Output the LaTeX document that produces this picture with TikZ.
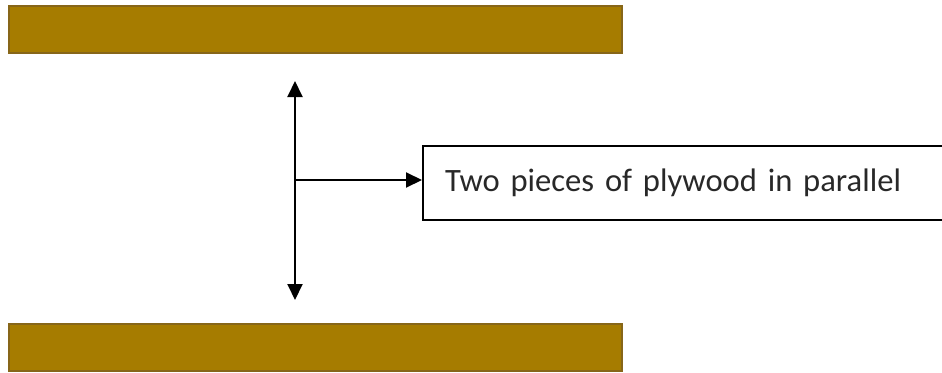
\documentclass[tikz,border=0pt]{standalone}
\usepackage{fontspec}
\setmainfont{Carlito}
\usetikzlibrary{arrows.meta}
\definecolor{plywood}{RGB}{166,124,0}
\definecolor{plyedge}{RGB}{135,102,25}
\definecolor{textgrey}{RGB}{40,40,40}
\tikzset{
  board/.style={draw=plyedge, line width=1.5pt, fill=plywood, minimum width=613pt, minimum height=47pt, inner sep=0pt},
  pointer/.style={line width=2pt, -{Triangle[length=16pt,width=15pt]}},
  labelbox/.style={draw, line width=2pt, anchor=west, minimum height=74pt, text width=486pt, inner xsep=22pt, align=left, font=\fontsize{32.6}{36}\selectfont, text=textgrey}
}
\begin{document}
\begin{tikzpicture}[x=1pt,y=-1pt]
  \useasboundingbox (0,0) rectangle (942,372);

  % the two boards
  \node[board] (topboard) at (315.5,29.5) {};
  \node[board] (bottomboard) at (315.5,347.5) {};

  % label
  \node[labelbox] (note) at (422,183) {Two pieces of plywood in parallel};

  % arrows
  \coordinate (upper) at (295,81);
  \coordinate (lower) at (295,300);
  \coordinate (mid) at (295,180);
  \draw[pointer, {Triangle[length=16pt,width=15pt]}-{Triangle[length=16pt,width=15pt]}] (upper) -- (lower);
  \draw[pointer] (mid) -- (mid -| note.west);
\end{tikzpicture}
\end{document}
